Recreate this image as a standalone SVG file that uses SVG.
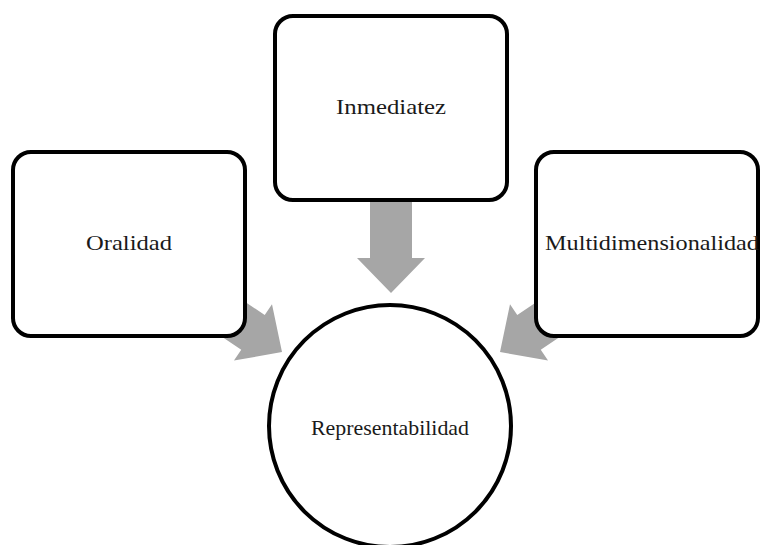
<svg xmlns="http://www.w3.org/2000/svg" width="760" height="545" viewBox="0 0 760 545">
<style>
.box{fill:#ffffff;stroke:#000000;stroke-width:4}
.lbl{font-family:"Liberation Serif","Times New Roman",serif;font-size:22px;fill:#1a1a1a}
.arr{fill:#a6a6a6}
</style>
<defs>
<polygon id="blk" points="0,0 -35,-34 -35,-21 -95,-21 -95,21 -35,21 -35,34"/>
</defs>
<rect width="760" height="545" fill="#ffffff"/>
<g id="connectors">
<use href="#blk" class="arr" transform="translate(391,293) rotate(90)"/>
<use href="#blk" class="arr" transform="translate(282,352) rotate(34)"/>
<use href="#blk" class="arr" transform="translate(500,352) rotate(146)"/>
</g>
<g id="oralidad">
<rect class="box" x="13" y="152" width="232" height="184" rx="18"/>
<text class="lbl" x="86" y="250" textLength="86" lengthAdjust="spacingAndGlyphs">Oralidad</text>
</g>
<g id="inmediatez">
<rect class="box" x="275" y="16" width="232" height="184" rx="18"/>
<text class="lbl" x="336" y="114" textLength="110" lengthAdjust="spacingAndGlyphs">Inmediatez</text>
</g>
<g id="multidimensionalidad">
<rect class="box" x="536" y="152" width="222" height="184" rx="18"/>
<text class="lbl" x="545" y="250" textLength="214" lengthAdjust="spacingAndGlyphs">Multidimensionalidad</text>
</g>
<g id="representabilidad">
<circle class="box" cx="390" cy="426" r="121"/>
<text class="lbl" x="311" y="435" style="font-size:21px" textLength="158" lengthAdjust="spacingAndGlyphs">Representabilidad</text>
</g>
</svg>
